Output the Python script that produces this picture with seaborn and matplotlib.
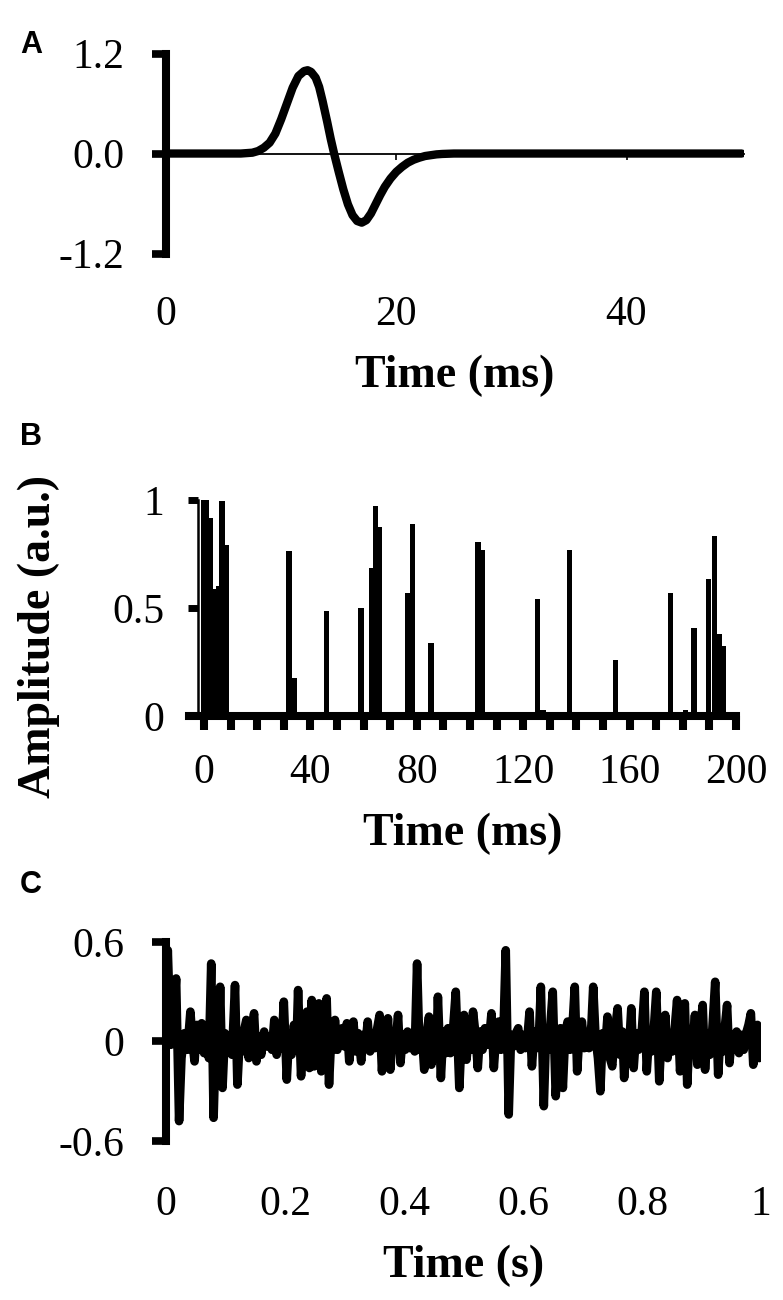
import numpy as np
import pandas as pd
import matplotlib
matplotlib.use("Agg")
import matplotlib.pyplot as plt
import seaborn as sns

# panel A: wavelet (ms, a.u.)
a_time = [0, 6.5, 7.5, 8.0, 8.5, 9.0, 9.5, 10.0, 10.5, 11.0,
          11.5, 12.0, 12.3, 12.6, 13.0, 13.3, 13.6, 14.0, 14.3, 14.6,
          15.0, 15.4, 15.8, 16.2, 16.6, 17.0, 17.4, 17.8, 18.2, 18.6,
          19.0, 19.5, 20.0, 20.5, 21.0, 21.5, 22.0, 22.5, 23.0, 23.5,
          24.0, 25.0, 50.0]
a_val = [0, 0, 0.01, 0.03, 0.07, 0.13, 0.24, 0.41, 0.60, 0.79,
         0.93, 0.99, 1.0, 0.98, 0.91, 0.80, 0.63, 0.38, 0.18, 0.0,
         -0.22, -0.43, -0.61, -0.74, -0.81, -0.83, -0.80, -0.72, -0.61, -0.50,
         -0.40, -0.30, -0.22, -0.16, -0.11, -0.075, -0.05, -0.03, -0.02, -0.01,
         -0.005, 0, 0]

# panel B: spike train (ms, amplitude)
b_time = [0, 1.0, 2.6, 4.1, 5.4, 6.8, 8.3, 32.0, 33.9, 46.1, 59.0, 63.2, 64.6, 66.0,
          76.5, 78.5, 85.3, 103.0, 104.6, 125.4, 127.4, 137.4, 154.7, 175.4, 181.0,
          184.2, 189.6, 191.8, 193.9, 195.4]
b_amp = [1.0, 1.0, 0.915, 0.59, 0.60, 0.995, 0.79, 0.765, 0.177, 0.486, 0.50, 0.687,
         0.97, 0.873, 0.568, 0.889, 0.34, 0.807, 0.768, 0.54, 0.03, 0.768, 0.26, 0.568,
         0.03, 0.406, 0.633, 0.833, 0.378, 0.326]

# panel C: convolved signal (s, a.u.)
c_time = [0.000, 0.003, 0.008, 0.013, 0.017, 0.022, 0.026, 0.031, 0.036, 0.041,
          0.045, 0.048, 0.052, 0.056, 0.060, 0.064, 0.068, 0.072, 0.076, 0.080,
          0.084, 0.088, 0.091, 0.095, 0.099, 0.103, 0.107, 0.111, 0.116, 0.120,
          0.124, 0.128, 0.132, 0.135, 0.139, 0.143, 0.148, 0.152, 0.156, 0.160,
          0.165, 0.169, 0.173, 0.178, 0.182, 0.186, 0.190, 0.194, 0.198, 0.203,
          0.207, 0.211, 0.215, 0.219, 0.222, 0.227, 0.231, 0.234, 0.237, 0.241,
          0.245, 0.249, 0.253, 0.257, 0.261, 0.265, 0.270, 0.274, 0.278, 0.281,
          0.284, 0.288, 0.292, 0.296, 0.300, 0.304, 0.308, 0.312, 0.315, 0.319,
          0.323, 0.328, 0.332, 0.335, 0.339, 0.343, 0.347, 0.351, 0.355, 0.359,
          0.363, 0.367, 0.370, 0.373, 0.377, 0.381, 0.385, 0.390, 0.394, 0.398,
          0.402, 0.406, 0.410, 0.414, 0.418, 0.422, 0.426, 0.430, 0.434, 0.438,
          0.442, 0.446, 0.450, 0.454, 0.457, 0.462, 0.466, 0.470, 0.474, 0.478,
          0.482, 0.487, 0.493, 0.497, 0.501, 0.505, 0.509, 0.513, 0.516, 0.520,
          0.524, 0.528, 0.532, 0.536, 0.540, 0.544, 0.547, 0.551, 0.555, 0.559,
          0.563, 0.567, 0.571, 0.576, 0.580, 0.584, 0.588, 0.592, 0.596, 0.600,
          0.604, 0.608, 0.611, 0.615, 0.619, 0.623, 0.627, 0.630, 0.635, 0.639,
          0.643, 0.646, 0.650, 0.655, 0.659, 0.663, 0.667, 0.671, 0.675, 0.679,
          0.683, 0.687, 0.691, 0.695, 0.699, 0.703, 0.707, 0.711, 0.715, 0.718,
          0.722, 0.726, 0.730, 0.734, 0.738, 0.742, 0.746, 0.750, 0.754, 0.759,
          0.763, 0.767, 0.770, 0.774, 0.778, 0.782, 0.786, 0.790, 0.794, 0.800,
          0.804, 0.808, 0.812, 0.816, 0.820, 0.824, 0.829, 0.833, 0.836, 0.839,
          0.843, 0.847, 0.851, 0.855, 0.859, 0.864, 0.868, 0.872, 0.876, 0.880,
          0.884, 0.889, 0.893, 0.897, 0.902, 0.906, 0.910, 0.914, 0.918, 0.923,
          0.928, 0.932, 0.936, 0.939, 0.943, 0.947, 0.951, 0.955, 0.959, 0.963,
          0.967, 0.971, 0.975, 0.979, 0.983, 0.987, 0.991, 0.994, 0.997, 1.000]
c_val = [0.00, 0.55, -0.02, 0.15, 0.38, -0.48, -0.10, 0.05, -0.05, 0.18,
         -0.02, -0.12, 0.10, -0.05, 0.11, -0.07, 0.08, -0.10, 0.47, -0.46,
         0.05, -0.10, 0.33, -0.28, 0.05, -0.05, 0.03, -0.08, 0.34, -0.26,
         0.02, -0.06, 0.08, 0.13, -0.10, 0.03, 0.17, -0.12, 0.03, -0.08,
         0.06, -0.03, 0.02, -0.05, 0.13, -0.08, 0.06, -0.04, 0.24, -0.23,
         0.05, -0.08, 0.10, -0.05, 0.31, -0.21, 0.08, -0.10, 0.18, -0.16,
         0.25, -0.15, 0.10, 0.23, -0.18, 0.08, 0.26, -0.26, 0.05, -0.05,
         0.13, -0.05, 0.04, 0.08, -0.03, 0.11, -0.12, 0.05, 0.12, -0.06,
         0.05, -0.12, 0.04, -0.03, 0.12, -0.06, 0.05, -0.04, 0.08, 0.16,
         -0.18, 0.06, -0.10, 0.14, -0.17, 0.06, -0.05, 0.16, -0.13, 0.04,
         -0.05, 0.06, -0.04, 0.03, -0.06, 0.47, -0.05, 0.05, -0.17, 0.05,
         0.15, -0.14, 0.08, -0.10, 0.27, -0.22, 0.06, -0.07, 0.08, -0.07,
         0.05, 0.30, -0.28, 0.05, 0.16, -0.11, 0.04, -0.05, 0.18, 0.05,
         -0.16, 0.06, -0.05, 0.08, -0.02, 0.05, 0.17, -0.16, 0.05, 0.12,
         -0.05, 0.04, 0.55, -0.44, 0.04, -0.03, 0.05, 0.08, -0.05, 0.04,
         -0.04, 0.05, 0.18, -0.15, 0.06, -0.04, 0.05, 0.33, -0.39, 0.08,
         -0.05, 0.10, 0.30, -0.33, -0.10, 0.08, -0.28, 0.05, 0.12, -0.05,
         0.08, 0.33, -0.18, 0.05, 0.12, -0.04, 0.05, -0.04, 0.10, 0.33,
         0.02, -0.10, -0.30, 0.05, -0.05, 0.15, -0.10, -0.15, 0.05, 0.20,
         -0.08, 0.06, -0.22, 0.05, -0.06, 0.20, -0.16, 0.05, -0.05, 0.08,
         0.30, -0.18, 0.05, -0.06, 0.08, 0.30, -0.24, 0.05, -0.05, 0.16,
         -0.10, 0.05, -0.06, 0.08, 0.25, -0.18, 0.05, 0.23, -0.26, 0.05,
         -0.06, 0.16, -0.14, 0.05, 0.22, -0.17, 0.05, -0.08, 0.06, 0.36,
         -0.20, 0.05, -0.06, 0.08, 0.22, -0.13, 0.04, -0.05, 0.06, -0.07,
         0.04, -0.05, 0.05, 0.10, 0.17, -0.14, 0.05, 0.10, -0.10, -0.05]

sns.set_theme(style="ticks")
plt.rcParams['font.family'] = ['Liberation Serif', 'DejaVu Serif']
plt.rcParams['axes.unicode_minus'] = False
for key in ['text.color', 'axes.labelcolor', 'xtick.color', 'ytick.color', 'axes.edgecolor']:
    plt.rcParams[key] = 'black'

TICK_FS = 30
LAB_FS = 33
INK = 'black'

fig = plt.figure(figsize=(7.83, 13.0), dpi=100)

# ---------------- A ----------------
axA = fig.add_axes([0.2120, 0.8050, 0.7382, 0.1538])
sns.lineplot(x=a_time, y=a_val, ax=axA, color=INK, linewidth=6.0,
             solid_joinstyle='round', solid_capstyle='round', zorder=3)
axA.set_xlim(0, 50.2)
axA.set_ylim(-1.2, 1.2)
axA.set_yticks([-1.2, 0, 1.2])
axA.set_yticklabels(['-1.2', '0.0', '1.2'])
axA.set_xticks([0, 20, 40])
axA.set_xticklabels(['0', '20', '40'])
for s in ['top', 'right', 'bottom']:
    axA.spines[s].set_visible(False)
axA.spines['left'].set_linewidth(5.8)
axA.tick_params(axis='y', length=10, width=5.5, direction='out', pad=20,
                labelsize=TICK_FS)
axA.tick_params(axis='x', length=0, pad=30, labelsize=TICK_FS)
axA.set_xlabel('Time (ms)', fontsize=LAB_FS, fontweight='bold', labelpad=15)
axA.set_ylabel('')
secA = axA.secondary_xaxis(0.4999)
secA.set_xticks([20, 40])
secA.set_xticklabels([])
secA.tick_params(axis='x', length=4, width=1.2, direction='out')
secA.spines['bottom'].set_linewidth(1.3)

# ---------------- B ----------------
axB = fig.add_axes([0.2414, 0.4492, 0.6986, 0.1662])
sns.barplot(x=b_time, y=b_amp, ax=axB, native_scale=True, width=2.0,
            color=INK, saturation=1, linewidth=0, errorbar=None)
axB.set_xlim(-5.6, 200)
axB.set_ylim(0, 1)
axB.set_xticks(list(range(0, 201, 40)))
axB.set_xticklabels([str(v) for v in range(0, 201, 40)])
axB.set_xticks(list(range(0, 201, 10)), minor=True)
axB.set_yticks([0, 0.5, 1])
axB.set_yticklabels(['0', '0.5', '1'])
for s in ['top', 'right']:
    axB.spines[s].set_visible(False)
axB.spines['bottom'].set_linewidth(5.8)
axB.spines['left'].set_linewidth(1.8)
axB.spines['left'].set_position(('data', -2.3))
axB.tick_params(axis='x', which='both', length=10, width=5.8, direction='out',
                pad=17, labelsize=TICK_FS)
axB.tick_params(axis='y', length=7, width=5, direction='out',
                pad=17, labelsize=TICK_FS)
axB.set_xlabel('Time (ms)', fontsize=LAB_FS, fontweight='bold', labelpad=15)
axB.set_ylabel('Amplitude (a.u.)', fontsize=LAB_FS, fontweight='bold')
axB.yaxis.set_label_coords(-0.236, 0.37)

# ---------------- C ----------------
axC = fig.add_axes([0.2120, 0.1223, 0.7599, 0.1531])
sns.lineplot(x=c_time, y=c_val, ax=axC, color=INK, linewidth=6.2,
             solid_joinstyle='round', solid_capstyle='round', zorder=3)
axC.set_xlim(0, 1)
axC.set_ylim(-0.6, 0.6)
axC.set_yticks([-0.6, 0, 0.6])
axC.set_yticklabels(['-0.6', '0', '0.6'])
axC.set_xticks([0, 0.2, 0.4, 0.6, 0.8, 1])
axC.set_xticklabels(['0', '0.2', '0.4', '0.6', '0.8', '1'])
for s in ['top', 'right', 'bottom']:
    axC.spines[s].set_visible(False)
axC.spines['left'].set_linewidth(5.8)
axC.tick_params(axis='y', length=10, width=5.5, direction='out', pad=20,
                labelsize=TICK_FS)
axC.tick_params(axis='x', length=0, pad=32, labelsize=TICK_FS)
axC.set_xlabel('Time (s)', fontsize=LAB_FS, fontweight='bold', labelpad=15)
axC.set_ylabel('')

# panel letters
for letter, ytop in [('A', 30), ('B', 422), ('C', 870)]:
    fig.text(20 / 783, 1 - ytop / 1300, letter, ha='left', va='top',
             fontsize=22, fontweight='bold', family=['Liberation Sans', 'DejaVu Sans'])

fig.savefig('out.png', dpi=100)
